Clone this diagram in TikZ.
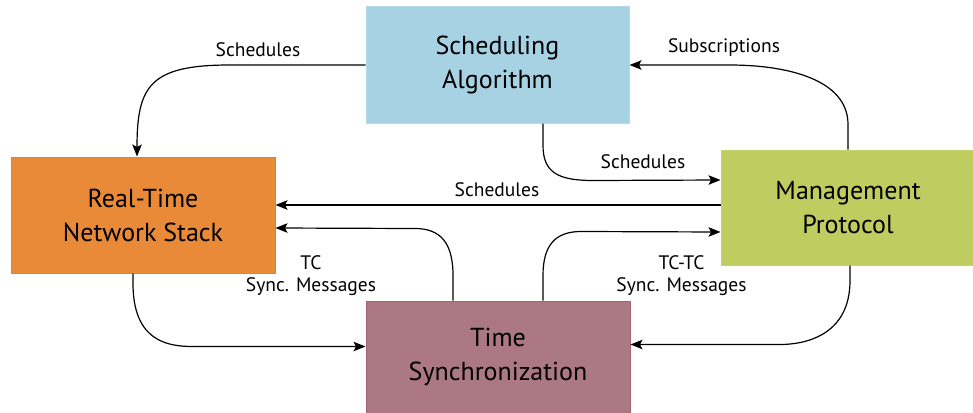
\documentclass[tikz,border=0pt]{standalone}
\usepackage{fontspec}
\setmainfont{PT Sans}
\usetikzlibrary{arrows.meta,calc}

\definecolor{schedblue}{RGB}{166,210,228}
\definecolor{schedline}{RGB}{180,220,235}
\definecolor{rtorange}{RGB}{232,138,55}
\definecolor{rtline}{RGB}{236,128,30}
\definecolor{mpgreen}{RGB}{190,204,96}
\definecolor{mpline}{RGB}{196,210,110}
\definecolor{tsmauve}{RGB}{171,120,131}
\definecolor{tsline}{RGB}{160,100,115}

\begin{document}
\begin{tikzpicture}[x=1pt,y=-1pt,
  box/.style={draw, line width=1pt, align=center, inner sep=0pt,
    font=\fontsize{26}{34}\selectfont},
  arr/.style={line width=1.2pt, -{Stealth[length=12pt,width=9.5pt,inset=2.5pt]}},
  lbl/.style={align=center, inner sep=0pt, font=\fontsize{19.5}{22}\selectfont}]
  \useasboundingbox (0,0) rectangle (973,412);

  % blocks
  \node[box, fill=schedblue, draw=schedline, minimum width=263pt, minimum height=116pt]
    (sa) at (497.5,65) {Scheduling\\Algorithm};
  \node[box, fill=rtorange, draw=rtline, minimum width=264pt, minimum height=116pt]
    (rt) at (143,215) {Real-Time\\Network Stack};
  \node[box, fill=mpgreen, draw=mpline, minimum width=254pt, minimum height=115pt]
    (mp) at (848,207.5) {Management\\Protocol};
  \node[box, fill=tsmauve, draw=tsline, minimum width=264pt, minimum height=112pt]
    (ts) at (498,357) {Time\\Synchronization};

  % attachment points on the block borders
  \coordinate (rt1) at ([xshift=-6pt]rt.north);
  \coordinate (sa3) at ([xshift=45.5pt]sa.south);
  \coordinate (mp3) at ([yshift=27.5pt]mp.west);
  \coordinate (mp4) at ([yshift=2.5pt]mp.west);
  \coordinate (ts5) at ([xshift=-45pt]ts.north);
  \coordinate (rt5) at ([yshift=-13pt]rt.east);
  \coordinate (ts6) at ([xshift=45pt]ts.north);
  \coordinate (mp6) at ([yshift=-24.5pt]mp.west);
  \coordinate (rt7) at ([xshift=-10pt]rt.south);
  \coordinate (ts7) at ([yshift=10.5pt]ts.west);
  \coordinate (mp8) at ([xshift=2pt]mp.south);
  \coordinate (ts8) at ([yshift=12.5pt]ts.east);

  % connectors
  \draw[arr] (sa.west) -- ++(-136,0)
    .. controls +(-80,0) and +(0,-70) .. (rt1);
  \draw[arr] (mp.north) -- ++(0,-25)
    .. controls +(0,-45) and +(58,0) .. ([xshift=100pt]sa.east) -- (sa.east);
  \draw[arr] (sa3) -- ++(0,22)
    .. controls +(0,27) and +(-35,0) .. ++(50,35) -- (mp3);
  \draw[arr] (mp4) -- (rt.east |- mp4);
  \draw[arr] (ts5) -- ++(0,-25)
    .. controls +(0,-32) and +(26,0) .. ++(-38,-47) -- (rt5);
  \draw[arr] (ts6) -- ++(0,-25)
    .. controls +(0,-30) and +(-26,0) .. ++(38,-44) -- (mp6);
  \draw[arr] (rt7) -- ++(0,10)
    .. controls +(0,58) and +(-25,0) .. ++(60,63) -- (ts7);
  \draw[arr] (mp8) -- ++(0,15)
    .. controls +(0,55) and +(25,0) .. ++(-70,64) -- (ts8);

  % connector labels
  \node[lbl] (l1) at (258,50) {Schedules};
  \node[lbl] (l2) at (724,48) {Subscriptions};
  \node[lbl] (l3) at (643,162) {Schedules};
  \node[lbl] (l4) at (497,190) {Schedules};
  \node[lbl] (l5) at (311,276) {TC\\Sync. Messages};
  \node[lbl] (l6) at (681.5,276) {TC-TC\\Sync. Messages};
\end{tikzpicture}
\end{document}
